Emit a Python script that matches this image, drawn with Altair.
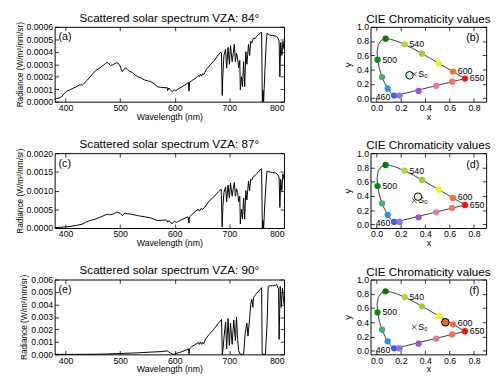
import altair as alt
import pandas as pd
import numpy as np

FONT = "Liberation Sans"

# ---------------- spectra ----------------
wl_84 = [380, 384, 390, 393, 396, 402, 408, 414, 420, 425, 431, 437, 443, 449, 455, 461, 467, 473, 476, 479,
         482, 486, 490, 494, 497, 500, 502, 504, 507, 510, 513, 517, 522, 527, 532, 538, 544, 550, 556, 562,
         568, 574, 580, 584, 586, 587, 589, 592, 595, 597, 599, 602, 605, 609, 615, 621, 625, 626, 627, 632,
         637, 641, 643, 645, 647, 649, 651, 653, 655, 658, 663, 668, 673, 678, 684, 685.5, 686.8, 688, 690, 693,
         695, 697.5, 700, 702, 705, 707, 709, 711, 713, 715, 717, 719, 720, 722, 724, 726, 728, 730, 732, 735,
         737, 739, 741, 744, 747, 750, 753, 756, 759, 760.3, 761.5, 762.7, 765, 767.5, 769, 773, 779, 785, 789, 791,
         792.4, 794, 796, 798, 800]
rad_84_e4 = [0.2, 0.25, 0.33, 0.4, 0.58, 0.83, 0.95, 1.08, 1.2, 1.33, 1.35, 1.6, 1.9, 2.2, 2.5, 2.65, 2.85, 3.05, 3.15, 3.05,
             2.9, 2.95, 3.05, 3.12, 3.05, 2.85, 2.6, 2.4, 2.6, 2.7, 2.6, 2.45, 2.35, 2.15, 2.0, 1.9, 1.75, 1.68, 1.6, 1.45,
             1.2, 1.15, 1.13, 1.1, 1.15, 0.88, 1.1, 0.95, 0.8, 0.9, 0.95, 0.85, 1.0, 1.08, 1.25, 1.4, 1.55, 0.83, 1.55, 1.7,
             1.85, 2.0, 2.1, 2.0, 2.2, 2.05, 2.25, 2.15, 2.35, 2.6, 2.85, 3.1, 3.35, 3.65, 3.98, 3.9, 0.5, 2.2, 3.7, 4.2,
             2.7, 4.35, 3.0, 4.5, 3.2, 3.85, 4.6, 3.2, 3.9, 3.5, 2.7, 3.3, 0.95, 2.0, 1.2, 3.2, 1.2, 4.0, 3.0, 4.6,
             3.7, 4.85, 4.7, 5.1, 5.05, 5.25, 5.35, 5.5, 5.55, 0.0, 0.9, 0.0, 2.5, 4.75, 5.5, 5.35, 5.3, 5.25, 5.1, 4.85,
             2.0, 4.75, 3.7, 4.85, 4.2]

wl_87 = [380, 390, 400, 410, 420, 430, 437, 445, 455, 465, 473, 478, 482, 488, 494, 497, 500, 504, 508, 514,
         520, 532, 545, 556, 568, 578, 583, 586, 587, 589, 592, 595, 597, 599, 603, 609, 615, 624, 626, 627,
         633, 639, 643, 645, 648, 651, 655, 663, 669, 675, 680, 685, 686.7, 688, 690, 693, 695, 697.5, 700, 702,
         705, 707, 709, 711, 713, 715, 717, 719, 720, 722, 724, 726, 728, 730, 732, 735, 737, 739, 741, 744,
         747, 750, 753, 756, 759, 760.3, 761.5, 762.7, 765, 767.5, 769, 773, 779, 785, 789, 791, 792.4, 794, 796, 798,
         800]
rad_87_e3 = [0.01, 0.02, 0.03, 0.045, 0.07, 0.1, 0.155, 0.2, 0.24, 0.3, 0.35, 0.37, 0.35, 0.38, 0.43, 0.41, 0.39, 0.33, 0.40, 0.38,
             0.37, 0.33, 0.30, 0.27, 0.20, 0.21, 0.215, 0.2, 0.155, 0.2, 0.16, 0.11, 0.15, 0.18, 0.15, 0.2, 0.24, 0.30, 0.13, 0.30,
             0.38, 0.46, 0.5, 0.45, 0.52, 0.5, 0.56, 0.72, 0.8, 0.89, 0.97, 1.04, 0.03, 0.55, 0.95, 1.1, 0.7, 1.15, 0.8, 1.2,
             0.85, 1.05, 1.22, 0.85, 1.05, 0.95, 0.7, 0.85, 0.11, 0.5, 0.25, 0.8, 0.24, 1.0, 0.75, 1.25, 1.0, 1.3, 1.28, 1.38,
             1.4, 1.45, 1.5, 1.55, 1.58, 0.0, 0.2, 0.0, 0.7, 1.3, 1.52, 1.5, 1.48, 1.47, 1.42, 1.35, 0.55, 1.3, 1.0, 1.45,
             1.3]

wl_90 = [380, 420, 450, 475, 500, 530, 556, 575, 586, 589, 592, 596, 598, 603, 609, 615, 621, 625, 626, 627,
         631, 637, 643, 645, 647, 649, 651, 653, 655, 658, 663, 668, 673, 679, 685.6, 687, 688.5, 690, 693, 695,
         697.5, 700, 702, 705, 708, 711, 713, 715, 717, 719, 723, 726, 729, 732, 734, 737, 739, 741, 743, 744,
         748, 752, 756, 759, 760, 766, 769, 771, 775, 779, 785, 787, 790, 791, 793, 795, 797, 800]
rad_90_e3 = [0.0, 0.0, 0.01, 0.03, 0.07, 0.12, 0.18, 0.22, 0.28, 0.2, 0.1, 0.02, 0.0, 0.08, 0.15, 0.25, 0.35, 0.44, 0.03, 0.44,
             0.62, 0.78, 0.95, 0.8, 1.0, 0.8, 0.95, 0.85, 1.1, 1.33, 1.6, 1.85, 2.1, 2.45, 2.8, 0.0, 0.5, 1.33, 2.6, 0.44,
             2.87, 0.7, 2.5, 0.8, 2.75, 1.1, 3.0, 1.2, 0.3, 0.05, 0.0, 0.0, 1.7, 2.5, 1.46, 2.87, 4.0, 4.4, 3.77, 4.55,
             4.8, 5.0, 5.2, 5.35, 0.0, 0.0, 2.5, 5.45, 5.5, 5.5, 5.55, 5.6, 5.2, 1.2, 5.45, 3.77, 5.3, 4.0]

wl_ticks = [400, 500, 600, 700, 800]
vza_labels = ["84", "87", "90"]
panel_letters = ["(a)", "(b)", "(c)", "(d)", "(e)", "(f)"]

# ---------------- CIE chromaticity ----------------
locus_x = [0.144, 0.124, 0.110, 0.091, 0.069, 0.045, 0.023, 0.008, 0.004, 0.014, 0.039, 0.074, 0.114, 0.155,
           0.230, 0.302, 0.373, 0.444, 0.512, 0.575, 0.627, 0.666, 0.691, 0.708, 0.719, 0.726, 0.144]
locus_y = [0.030, 0.058, 0.087, 0.133, 0.201, 0.295, 0.413, 0.538, 0.655, 0.750, 0.812, 0.834, 0.826, 0.806,
           0.754, 0.692, 0.624, 0.555, 0.487, 0.424, 0.372, 0.334, 0.308, 0.292, 0.281, 0.274, 0.030]

pt_x = [0.144, 0.091, 0.045, 0.008, 0.074, 0.230, 0.373, 0.512, 0.627, 0.726, 0.188, 0.345, 0.49, 0.62]
pt_y = [0.035, 0.133, 0.295, 0.538, 0.834, 0.754, 0.624, 0.487, 0.372, 0.274, 0.036, 0.10, 0.17, 0.23]
pt_color = ["#3a62e8", "#2f8ff0", "#40b070", "#0f8a0f", "#0b760b", "#a8d838", "#9ad030", "#f2f21e",
            "#ff6a30", "#ff1010", "#9a6ae8", "#a050d8", "#e8789a", "#ff7050"]

wl_lab_text = ["500", "540", "600", "650"]
wl_lab_x = [0.008, 0.230, 0.627, 0.726]
wl_lab_y = [0.538, 0.754, 0.385, 0.274]
lab460_x = [0.144]
lab460_y = [0.030]

s0_x = [0.31]
s0_y = [0.335]

sample_x = [0.27, 0.34, 0.565]
sample_y = [0.32, 0.39, 0.40]
sample_fill = ["#c8f4f4", "#f2f2d8", "#f06a30"]

W_SPEC, W_CIE, H = 236, 119, 77
T = 4  # inward tick length


def ax(orient, values, fmt=None, title=None, labels=True, tpad=2, tsize=9):
    kw = dict(orient=orient, values=values, tickSize=T, offset=-T, domain=False, grid=False,
              labels=labels, labelPadding=2, tickColor="black", tickWidth=0.8, title=title,
              titlePadding=tpad, titleFontSize=tsize, minExtent=0)
    if fmt:
        kw["format"] = fmt
    return alt.Axis(**kw)


def spectrum_panel(wl, vals, mult, ymax, ystep, fmt, vza, letter):
    df = pd.DataFrame({"wl": wl, "rad": np.array(vals) * mult})
    xs = alt.Scale(domain=[380, 800], nice=False, zero=False)
    ys = alt.Scale(domain=[0, ymax], nice=False, zero=False)
    n = int(round(ymax / ystep))
    yvals = [round(i * ystep, 6) for i in range(n + 1)]
    line = alt.Chart(df).mark_line(color="black", strokeWidth=1).encode(
        x=alt.X("wl:Q", scale=xs, axis=ax("bottom", wl_ticks, "d", "Wavelength (nm)", tpad=0)),
        y=alt.Y("rad:Q", scale=ys, axis=ax("left", yvals, fmt, "Radiance (W/m²/nm/sr)", tpad=2, tsize=8.5)),
    )
    mirror = alt.Chart(df).mark_line(strokeOpacity=0).encode(
        x=alt.X("wl:Q", scale=xs, axis=ax("top", wl_ticks, labels=False)),
        y=alt.Y("rad:Q", scale=ys, axis=ax("right", yvals, labels=False)),
    )
    lab = alt.Chart(pd.DataFrame({"t": [letter]})).mark_text(
        align="left", baseline="middle", fontSize=11, font=FONT, color="black"
    ).encode(text="t:N", x=alt.value(4), y=alt.value(11))
    return alt.layer(line, mirror, lab).resolve_axis(x="independent", y="independent").properties(
        width=W_SPEC, height=H, title=f"Scattered solar spectrum VZA: {vza}°")


def cie_panel(k, letter):
    xs = alt.Scale(domain=[-0.05, 0.9], nice=False, zero=False)
    ys = alt.Scale(domain=[-0.05, 1.0], nice=False, zero=False)
    xt = [0.0, 0.2, 0.4, 0.6, 0.8]
    yt = [0.0, 0.2, 0.4, 0.6, 0.8, 1.0]

    def XY(axx=None, axy=None):
        return dict(x=alt.X("x:Q", scale=xs, axis=axx), y=alt.Y("y:Q", scale=ys, axis=axy))

    locus_df = pd.DataFrame({"x": locus_x, "y": locus_y, "i": list(range(len(locus_x)))})
    locus = alt.Chart(locus_df).mark_line(color="#222222", strokeWidth=0.9).encode(
        **XY(ax("bottom", xt, ".1f", "x", tpad=0), ax("left", yt, ".1f", "y", tpad=4, tsize=10)), order="i:Q")
    mirror = alt.Chart(locus_df).mark_line(strokeOpacity=0).encode(
        **XY(ax("top", xt, labels=False), ax("right", yt, labels=False)), order="i:Q")
    pts = alt.Chart(pd.DataFrame({"x": pt_x, "y": pt_y, "c": pt_color})).mark_circle(
        size=42, opacity=1).encode(**XY(), color=alt.Color("c:N", scale=None))
    labs = alt.Chart(pd.DataFrame({"x": wl_lab_x, "y": wl_lab_y, "t": wl_lab_text})).mark_text(
        align="left", baseline="middle", dx=5, fontSize=9, font=FONT, color="black").encode(**XY(), text="t:N")
    lab460 = alt.Chart(pd.DataFrame({"x": lab460_x, "y": lab460_y, "t": ["460"]})).mark_text(
        align="right", baseline="middle", dx=-4, dy=1, fontSize=9, font=FONT, color="black").encode(**XY(), text="t:N")
    s0 = alt.Chart(pd.DataFrame({"x": s0_x, "y": s0_y, "t": ["S₀"]}))
    s0_mark = s0.mark_point(shape="M-1,-1L1,1M-1,1L1,-1", filled=False, color="black", strokeWidth=1,
                            size=22).encode(**XY())
    s0_text = s0.mark_text(align="left", baseline="middle", dx=4, fontSize=9, font=FONT,
                           color="black").encode(**XY(), text="t:N")
    samp = alt.Chart(pd.DataFrame({"x": [sample_x[k]], "y": [sample_y[k]]})).mark_circle(
        size=60, opacity=1, color=sample_fill[k], stroke="black", strokeWidth=1).encode(**XY())
    lab = alt.Chart(pd.DataFrame({"t": [letter]})).mark_text(
        align="right", baseline="middle", fontSize=11, font=FONT, color="black"
    ).encode(text="t:N", x=alt.value(W_CIE - 7), y=alt.value(12))
    return alt.layer(locus, mirror, pts, labs, lab460, s0_mark, s0_text, samp, lab).resolve_axis(
        x="independent", y="independent").properties(width=W_CIE, height=H, title="CIE Chromaticity values")


panels = [
    spectrum_panel(wl_84, rad_84_e4, 1e-4, 0.0006, 0.0001, ".4f", vza_labels[0], panel_letters[0]),
    cie_panel(0, panel_letters[1]),
    spectrum_panel(wl_87, rad_87_e3, 1e-3, 0.0020, 0.0005, ".4f", vza_labels[1], panel_letters[2]),
    cie_panel(1, panel_letters[3]),
    spectrum_panel(wl_90, rad_90_e3, 1e-3, 0.006, 0.001, ".3f", vza_labels[2], panel_letters[4]),
    cie_panel(2, panel_letters[5]),
]

chart = alt.concat(*panels, columns=2, spacing={"row": 53, "column": 89}, bounds="flush").properties(
    padding={"left": 6, "top": -2, "right": 0, "bottom": 0}
).configure_view(stroke="black", strokeWidth=1).configure_axis(
    labelFont=FONT, titleFont=FONT, labelFontSize=9, titleFontSize=9, labelColor="black",
    titleColor="black", titleFontWeight="normal"
).configure_title(font=FONT, fontSize=12, fontWeight="normal", color="black", offset=-3, frame="group")

chart.save("out.html", embed_options={"renderer": "svg", "actions": False})
